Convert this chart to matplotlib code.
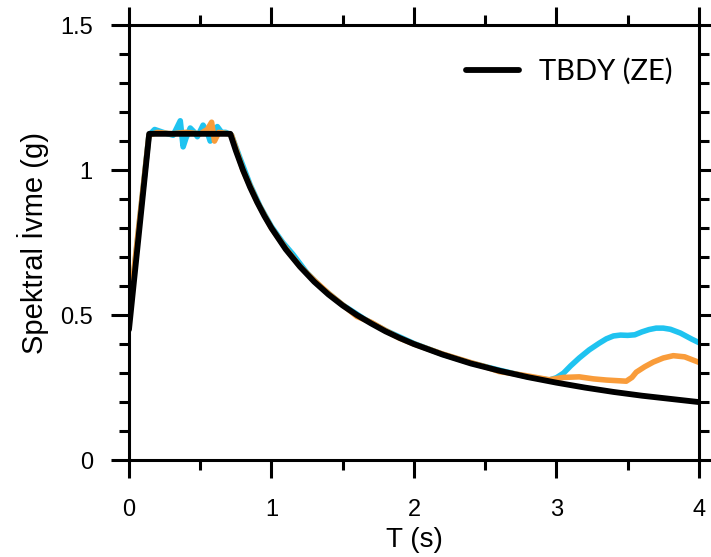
import matplotlib
matplotlib.use("Agg")
import matplotlib.pyplot as plt
from matplotlib.ticker import MultipleLocator, FormatStrFormatter

# TBDY design spectrum (ZE)
T_tbdy = [0.0, 0.142, 0.711, 0.75, 0.8, 0.85, 0.9, 0.95, 1.0, 1.1, 1.2, 1.3, 1.4, 1.5,
          1.6, 1.7, 1.8, 1.9, 2.0, 2.2, 2.4, 2.6, 2.8, 3.0, 3.2, 3.4, 3.6, 3.8, 4.0]
Sa_tbdy = [0.45, 1.125, 1.125, 1.067, 1.0, 0.941, 0.889, 0.842, 0.8, 0.727, 0.667, 0.615,
           0.571, 0.533, 0.5, 0.471, 0.444, 0.421, 0.4, 0.364, 0.333, 0.308, 0.286, 0.267,
           0.25, 0.235, 0.222, 0.211, 0.2]

# matched spectrum 1 (cyan)
T_cyan = [0.0, 0.14, 0.18, 0.24, 0.31, 0.34, 0.36, 0.38, 0.40, 0.43, 0.46, 0.48, 0.52,
          0.55, 0.57, 0.60, 0.62, 0.65, 0.68, 0.72, 0.78, 0.85, 0.92, 1.0, 1.08, 1.15,
          1.25, 1.35, 1.5, 1.65, 1.8, 2.0, 2.2, 2.4, 2.6, 2.8, 2.95, 3.0, 3.05, 3.1, 3.16,
          3.23, 3.3, 3.35, 3.4, 3.45, 3.5, 3.55, 3.6, 3.65, 3.7, 3.75, 3.8, 3.87, 3.95, 4.0]
Sa_cyan = [0.49, 1.12, 1.14, 1.13, 1.12, 1.15, 1.17, 1.08, 1.11, 1.145, 1.13, 1.115, 1.155,
           1.13, 1.10, 1.14, 1.15, 1.13, 1.13, 1.12, 1.04, 0.95, 0.875, 0.805, 0.75, 0.71,
           0.645, 0.595, 0.535, 0.487, 0.447, 0.402, 0.365, 0.335, 0.31, 0.287, 0.276,
           0.284, 0.30, 0.325, 0.352, 0.38, 0.403, 0.418, 0.428, 0.431, 0.43, 0.432, 0.442,
           0.45, 0.455, 0.455, 0.451, 0.438, 0.417, 0.405]

# matched spectrum 2 (orange)
T_orng = [0.0, 0.14, 0.2, 0.3, 0.4, 0.5, 0.55, 0.58, 0.60, 0.63, 0.7, 0.72, 0.8, 0.9,
          1.0, 1.1, 1.2, 1.3, 1.4, 1.5, 1.6, 1.7, 1.8, 1.9, 2.0, 2.2, 2.4, 2.5, 2.6, 2.7,
          2.8, 2.95, 3.05, 3.16, 3.26, 3.35, 3.49, 3.53, 3.56, 3.62, 3.68, 3.75, 3.82,
          3.9, 4.0]
Sa_orng = [0.50, 1.12, 1.13, 1.125, 1.13, 1.125, 1.14, 1.165, 1.10, 1.13, 1.125, 1.12, 1.0,
           0.89, 0.80, 0.73, 0.668, 0.62, 0.575, 0.535, 0.495, 0.475, 0.447, 0.42, 0.40,
           0.366, 0.336, 0.322, 0.305, 0.298, 0.29, 0.277, 0.285, 0.287, 0.28, 0.276,
           0.272, 0.285, 0.303, 0.322, 0.338, 0.352, 0.36, 0.356, 0.337]

plt.rcParams['font.family'] = ['Liberation Sans', 'DejaVu Sans']

fig = plt.figure(figsize=(7.11, 5.57), dpi=100)
ax = fig.add_axes([0.1814, 0.174, 0.8016, 0.781])

ax.plot(T_cyan, Sa_cyan, color="#1FC3F0", lw=4.0, solid_capstyle='round', solid_joinstyle='round')
ax.plot(T_orng, Sa_orng, color="#F99C3A", lw=4.0, solid_capstyle='round', solid_joinstyle='round')
ax.plot(T_tbdy, Sa_tbdy, color="black", lw=4.2, label="TBDY (ZE)",
        solid_capstyle='round', solid_joinstyle='round')

ax.set_xlim(0, 4)
ax.set_ylim(0, 1.5)
ax.xaxis.set_major_locator(MultipleLocator(1))
ax.xaxis.set_minor_locator(MultipleLocator(0.5))
ax.yaxis.set_major_locator(MultipleLocator(0.5))
ax.yaxis.set_minor_locator(MultipleLocator(0.1))
ax.xaxis.set_major_formatter(FormatStrFormatter('%g'))
ax.yaxis.set_major_formatter(FormatStrFormatter('%g'))

for s in ax.spines.values():
    s.set_linewidth(2.2)
ax.tick_params(which='both', direction='out', top=True, right=True, width=2.2)
ax.tick_params(which='major', length=13, labelsize=17)
ax.tick_params(axis='x', which='major', pad=15)
ax.tick_params(axis='y', which='major', pad=13)
ax.tick_params(which='minor', length=7)

ax.set_xlabel("T (s)", fontsize=20, labelpad=4)
ax.set_ylabel("Spektral İvme (g)", fontsize=21, labelpad=8)

leg = ax.legend(loc='upper right', bbox_to_anchor=(1.0, 0.985), frameon=False,
                handlelength=1.8, handletextpad=0.7,
                prop={'family': 'Lato', 'size': 21})

fig.savefig("out.png", dpi=100)
